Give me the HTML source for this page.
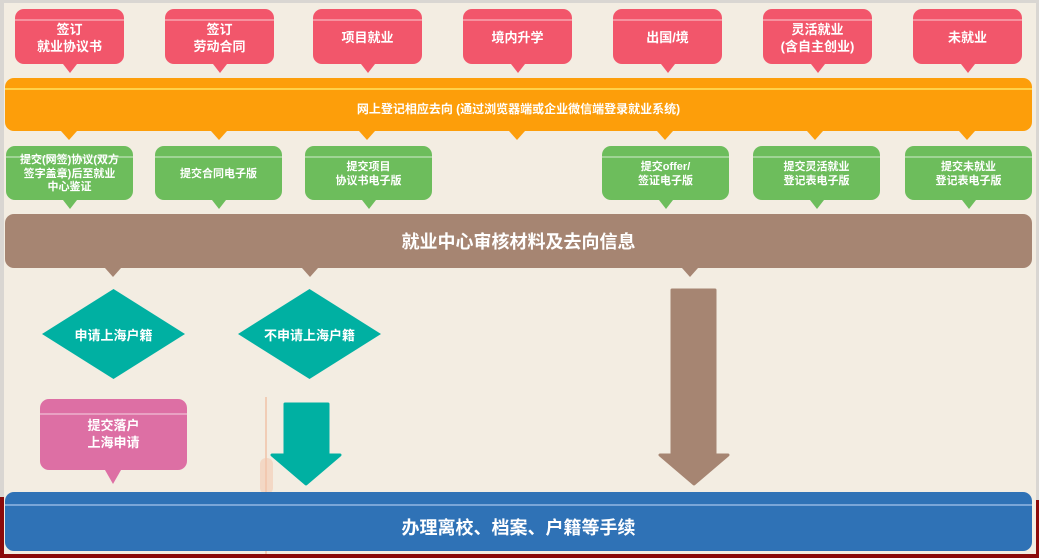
<!DOCTYPE html>
<html><head><meta charset="utf-8"><style>
*{margin:0;padding:0;box-sizing:border-box}
body{width:1039px;height:558px;overflow:hidden;position:relative;background:#d9d6d2;font-family:"Liberation Sans","Noto Sans CJK SC",sans-serif;font-weight:bold;color:#fff}
.bg{position:absolute;left:4px;top:3px;width:1032px;height:555px;background:#f3ede2}
.b{position:absolute;display:flex;align-items:center;justify-content:center;text-align:center;border-radius:9px;line-height:1.25}
.p{background:#f2566b;font-size:13px;top:9px;height:55px;width:109px;padding-top:4px}
.p:after,.g:after{content:"";position:absolute;left:50%;margin-left:-7px;bottom:-9px;border-left:7px solid transparent;border-right:7px solid transparent;border-top:9px solid #f2566b}
.g{background:#6dbd5c;font-size:11px;top:146px;height:54px;width:127px;padding-top:3px}
.g:after{border-top-color:#6dbd5c}
.hl{position:absolute;left:0;right:0;top:10px;height:2px;background:rgba(255,255,255,.35)}
.bar{position:absolute;left:5px;width:1027px;border-radius:9px;display:flex;align-items:center;justify-content:center}
.t{position:absolute;width:0;height:0;border-left:8px solid transparent;border-right:8px solid transparent}
.dm{position:absolute;width:143px;height:90px;top:289px;display:flex;align-items:center;justify-content:center;font-size:13px}
.dm svg{position:absolute;left:0;top:0}
.dm span{position:relative}
</style></head><body>
<div class="bg"></div>
<div style="position:absolute;left:265px;top:397px;width:2px;height:161px;background:#f0b89a;opacity:.6"></div>
<div style="position:absolute;left:260px;top:458px;width:13px;height:36px;border-radius:6px;background:#f3c6ad;opacity:.55"></div>

<div class="b p" style="left:15px"><div class="hl"></div>签订<br>就业协议书</div>
<div class="b p" style="left:165px"><div class="hl"></div>签订<br>劳动合同</div>
<div class="b p" style="left:313px"><div class="hl"></div>项目就业</div>
<div class="b p" style="left:463px"><div class="hl"></div>境内升学</div>
<div class="b p" style="left:613px"><div class="hl"></div>出国/境</div>
<div class="b p" style="left:763px"><div class="hl"></div>灵活就业<br>(含自主创业)</div>
<div class="b p" style="left:913px"><div class="hl"></div>未就业</div>

<div class="bar" style="top:78px;height:53px;background:#fd9e0a;font-size:12px;padding-top:8px"><div style="position:absolute;left:0;right:0;top:10px;height:2px;background:#ffd24a"></div>网上登记相应去向 (通过浏览器端或企业微信端登录就业系统)</div>
<div class="t" style="left:61px;top:131px;border-top:9px solid #fd9e0a"></div>
<div class="t" style="left:211px;top:131px;border-top:9px solid #fd9e0a"></div>
<div class="t" style="left:359px;top:131px;border-top:9px solid #fd9e0a"></div>
<div class="t" style="left:509px;top:131px;border-top:9px solid #fd9e0a"></div>
<div class="t" style="left:657px;top:131px;border-top:9px solid #fd9e0a"></div>
<div class="t" style="left:807px;top:131px;border-top:9px solid #fd9e0a"></div>
<div class="t" style="left:959px;top:131px;border-top:9px solid #fd9e0a"></div>

<div class="b g" style="left:6px"><div class="hl"></div>提交(网签)协议(双方<br>签字盖章)后至就业<br>中心鉴证</div>
<div class="b g" style="left:155px"><div class="hl"></div>提交合同电子版</div>
<div class="b g" style="left:305px"><div class="hl"></div>提交项目<br>协议书电子版</div>
<div class="b g" style="left:602px"><div class="hl"></div>提交offer/<br>签证电子版</div>
<div class="b g" style="left:753px"><div class="hl"></div>提交灵活就业<br>登记表电子版</div>
<div class="b g" style="left:905px"><div class="hl"></div>提交未就业<br>登记表电子版</div>

<div class="bar" style="top:214px;height:54px;background:#a68572;font-size:18px">就业中心审核材料及去向信息</div>
<div class="t" style="left:105px;top:268px;border-top:9px solid #a68572"></div>
<div class="t" style="left:302px;top:268px;border-top:9px solid #a68572"></div>
<div class="t" style="left:682px;top:268px;border-top:9px solid #a68572"></div>

<div class="dm" style="left:42px"><svg width="143" height="90"><polygon points="71.5,0 143,45 71.5,90 0,45" fill="#00b0a2"/></svg><span>申请上海户籍</span></div>
<div class="dm" style="left:238px"><svg width="143" height="90"><polygon points="71.5,0 143,45 71.5,90 0,45" fill="#00b0a2"/></svg><span>不申请上海户籍</span></div>

<div class="b" style="left:40px;top:399px;width:147px;height:71px;background:#dd6fa4;font-size:13px"><div class="hl" style="top:14px"></div>提交落户<br>上海申请</div>
<div class="t" style="left:105px;top:470px;border-top:14px solid #dd6fa4"></div>

<svg style="position:absolute;left:270px;top:402px" width="72" height="84"><polygon points="15,2 58,2 58,53 70,53 36,82 2,53 15,53" fill="#00b0a2" stroke="#00b0a2" stroke-linejoin="round" stroke-width="3"/></svg>
<svg style="position:absolute;left:658px;top:288px" width="72" height="200"><polygon points="14,2 57,2 57,167 70,167 36,196 2,167 14,167" fill="#a68572" stroke="#a68572" stroke-linejoin="round" stroke-width="3"/></svg>

<div class="bar" style="top:492px;height:59px;background:#2f72b6;font-size:18px;padding-top:10px"><div style="position:absolute;left:0;right:0;top:12px;height:2px;background:#7aa6d8"></div>办理离校、档案、户籍等手续</div>

<div style="position:absolute;left:0;top:497px;width:4px;height:61px;background:#8b0a0a"></div>
<div style="position:absolute;right:0;top:500px;width:3px;height:58px;background:#8b0a0a"></div>
<div style="position:absolute;left:0;top:554px;width:1039px;height:4px;background:#8b0a0a"></div>
</body></html>
